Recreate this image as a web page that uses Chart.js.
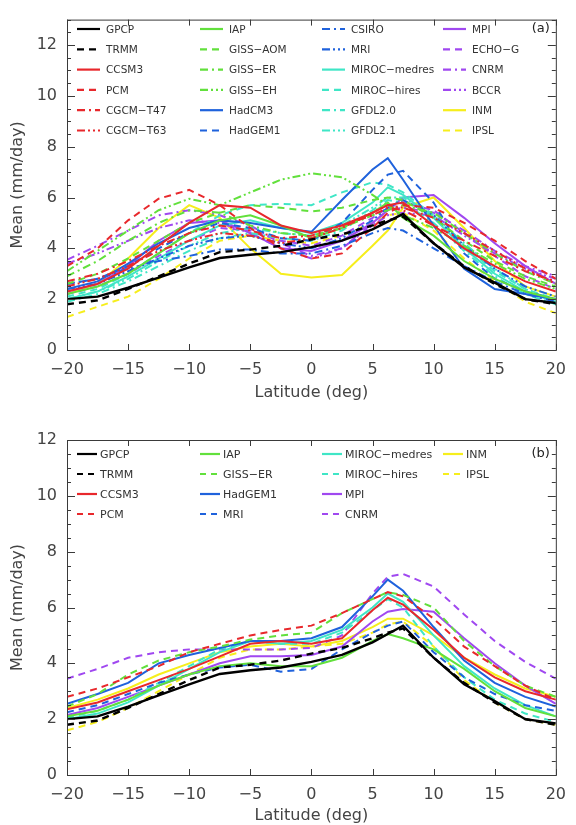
<!DOCTYPE html>
<html>
<head>
<meta charset="utf-8">
<script src="https://cdn.jsdelivr.net/npm/chart.js@4.4.1/dist/chart.umd.min.js"></script>
<style>
  body { margin: 0; background: #fff; width: 576px; height: 825px; overflow: hidden; }
  .panel { position: absolute; left: 0; width: 576px; height: 410px; }
</style>
</head>
<body>
<div class="panel" style="top:0px"><canvas id="chartA" width="576" height="410"></canvas></div>
<div class="panel" style="top:415px"><canvas id="chartB" width="576" height="410"></canvas></div>
<script>
// latitude nodes (deg)
const lat = [-20, -17.5, -15, -12.5, -10, -7.5, -5, -2.5, 0, 2.5, 5, 6.25, 7.5, 10, 12.5, 15, 17.5, 20]
const xTickVals = [-20, -15, -10, -5, 0, 5, 10, 15, 20]
const yTickVals = [0, 2, 4, 6, 8, 10, 12]

// observations (both panels)
const gpcp = [2.0, 2.1, 2.45, 2.85, 3.25, 3.62, 3.75, 3.85, 4.05, 4.3, 4.75, 5.05, 5.35, 4.2, 3.25, 2.65, 2.0, 1.85]
const trmm = [1.8, 1.95, 2.4, 2.9, 3.4, 3.85, 3.95, 4.1, 4.35, 4.55, 4.9, 5.1, 5.25, 4.2, 3.3, 2.6, 2.0, 1.8]

// panel (a) models
const ccsm3A   = [2.3, 2.6, 3.2, 4.1, 5.0, 5.7, 5.6, 4.9, 4.6, 4.9, 5.4, 5.7, 5.8, 4.9, 4.0, 3.3, 2.7, 2.3]
const pcmA     = [3.3, 4.0, 5.1, 5.95, 6.3, 5.7, 4.8, 4.0, 3.6, 3.8, 4.8, 5.4, 5.7, 5.6, 5.0, 4.3, 3.5, 2.8]
const cgcm47A  = [2.7, 3.0, 3.5, 4.1, 4.6, 4.9, 4.7, 4.4, 4.5, 4.9, 5.3, 5.6, 5.5, 4.9, 4.3, 3.7, 3.1, 2.7]
const cgcm63A  = [2.5, 2.8, 3.3, 3.9, 4.3, 4.6, 4.5, 4.2, 4.4, 4.8, 5.4, 5.7, 5.6, 5.2, 4.6, 3.9, 3.2, 2.6]
const iapA     = [2.2, 2.5, 3.0, 3.8, 4.6, 5.1, 5.3, 4.9, 4.4, 4.8, 5.4, 5.8, 5.2, 4.5, 3.5, 2.8, 2.3, 2.0]
const gissAomA = [2.6, 3.0, 3.6, 4.3, 5.0, 5.4, 5.7, 5.6, 5.45, 5.6, 5.9, 6.0, 5.9, 5.2, 4.3, 3.5, 2.9, 2.5]
const gissErA  = [2.9, 3.5, 4.3, 5.0, 5.5, 5.4, 4.9, 4.6, 4.5, 4.8, 5.3, 5.5, 5.7, 5.4, 4.6, 3.8, 3.1, 2.6]
const gissEhA  = [3.1, 3.9, 4.7, 5.5, 5.95, 5.7, 6.2, 6.7, 6.95, 6.8, 6.1, 5.7, 5.3, 4.8, 4.1, 3.4, 2.8, 2.4]
const hadcm3A  = [2.4, 2.7, 3.4, 4.2, 4.8, 5.1, 5.0, 4.8, 4.65, 5.9, 7.1, 7.55, 6.7, 4.9, 3.2, 2.4, 2.2, 2.0]
const hadgem1A = [2.6, 2.8, 3.3, 4.0, 4.6, 5.0, 4.8, 4.4, 4.3, 5.0, 6.3, 6.9, 7.05, 5.8, 3.8, 2.8, 2.3, 2.0]
const csiroA   = [2.6, 2.8, 3.2, 3.5, 3.7, 3.95, 3.95, 3.8, 3.8, 4.1, 4.6, 4.8, 4.7, 4.0, 3.3, 2.7, 2.2, 1.9]
const mriA     = [2.4, 2.6, 3.1, 3.6, 4.1, 4.4, 4.5, 4.2, 4.0, 4.4, 5.1, 5.6, 5.9, 5.3, 4.1, 3.2, 2.5, 2.1]
const mirocMA  = [2.0, 2.3, 2.9, 3.6, 4.3, 4.9, 5.1, 4.8, 4.6, 5.0, 5.8, 6.4, 6.1, 5.2, 4.0, 3.0, 2.3, 1.9]
const mirocHA  = [2.1, 2.4, 3.0, 3.8, 4.6, 5.3, 5.7, 5.75, 5.7, 6.2, 6.6, 6.5, 6.2, 5.3, 4.1, 3.1, 2.4, 2.0]
const gfdl20A  = [1.9, 2.2, 2.7, 3.3, 3.9, 4.4, 4.6, 4.4, 4.3, 4.7, 5.5, 5.9, 5.8, 5.0, 3.9, 2.9, 2.2, 1.8]
const gfdl21A  = [2.0, 2.3, 2.8, 3.5, 4.1, 4.6, 4.8, 4.6, 4.5, 4.9, 5.6, 6.0, 6.0, 5.3, 4.2, 3.2, 2.4, 1.9]
const mpiA     = [2.3, 2.6, 3.3, 4.3, 5.0, 5.1, 4.6, 4.0, 3.9, 4.3, 5.0, 5.5, 6.0, 6.1, 5.2, 4.2, 3.3, 2.6]
const echogA   = [2.2, 2.5, 3.0, 3.7, 4.3, 4.8, 4.7, 4.3, 4.1, 4.5, 5.2, 5.6, 5.8, 5.5, 4.6, 3.7, 2.9, 2.4]
const cnrmA    = [3.55, 4.1, 4.7, 5.3, 5.5, 5.3, 4.9, 4.2, 3.7, 4.0, 5.0, 5.5, 5.6, 5.4, 4.7, 3.9, 3.3, 2.9]
const bccrA    = [3.4, 3.8, 4.3, 4.8, 5.1, 5.0, 4.6, 4.0, 3.6, 4.0, 4.9, 5.3, 5.4, 5.3, 4.5, 3.8, 3.2, 2.8]
const inmA     = [2.2, 2.6, 3.6, 4.8, 5.7, 5.2, 4.0, 3.0, 2.85, 2.95, 4.1, 4.7, 5.6, 6.0, 4.8, 3.5, 2.5, 2.1]
const ipslA    = [1.3, 1.7, 2.1, 2.8, 3.6, 4.3, 4.5, 4.3, 4.2, 4.5, 5.0, 5.3, 5.4, 4.7, 3.6, 2.7, 1.9, 1.45]

// panel (b) models
const ccsm3B   = [2.35, 2.6, 3.0, 3.4, 3.8, 4.25, 4.7, 4.8, 4.7, 4.9, 5.9, 6.35, 6.1, 5.2, 4.2, 3.5, 3.0, 2.7]
const pcmB     = [2.8, 3.1, 3.5, 3.9, 4.4, 4.7, 5.0, 5.2, 5.35, 5.8, 6.3, 6.55, 6.4, 5.6, 4.6, 3.9, 3.2, 2.7]
const iapB     = [2.1, 2.3, 2.7, 3.2, 3.6, 3.9, 4.0, 3.9, 3.9, 4.2, 4.8, 5.05, 4.9, 4.5, 3.8, 3.0, 2.4, 2.1]
const gissErB  = [2.45, 2.9, 3.6, 4.1, 4.4, 4.6, 4.85, 5.0, 5.1, 5.8, 6.3, 6.55, 6.45, 6.0, 4.8, 3.9, 3.2, 2.8]
const hadgem1B = [2.55, 2.9, 3.3, 4.0, 4.3, 4.55, 4.8, 4.8, 4.9, 5.3, 6.4, 7.0, 6.6, 5.3, 4.1, 3.3, 2.8, 2.45]
const mriB     = [2.25, 2.5, 2.9, 3.3, 3.6, 3.85, 3.95, 3.7, 3.8, 4.5, 5.1, 5.35, 5.5, 4.4, 3.5, 2.9, 2.5, 2.3]
const mirocMB  = [2.0, 2.2, 2.6, 3.2, 3.8, 4.4, 4.8, 4.7, 4.8, 5.2, 6.0, 6.5, 6.2, 5.0, 3.9, 3.1, 2.5, 2.1]
const mirocHB  = [2.05, 2.3, 2.7, 3.3, 3.9, 4.5, 4.8, 4.7, 4.7, 5.1, 5.9, 6.3, 6.0, 4.6, 3.5, 2.7, 2.2, 1.9]
const mpiB     = [2.15, 2.4, 2.8, 3.2, 3.6, 4.0, 4.25, 4.25, 4.3, 4.6, 5.5, 5.85, 5.95, 5.85, 4.9, 4.0, 3.2, 2.55]
const cnrmB    = [3.45, 3.8, 4.2, 4.4, 4.5, 4.5, 4.5, 4.5, 4.55, 5.0, 6.5, 7.1, 7.2, 6.75, 5.75, 4.8, 4.05, 3.45]
const inmB     = [2.4, 2.7, 3.1, 3.6, 4.0, 4.4, 4.6, 4.7, 4.6, 4.8, 5.3, 5.6, 5.6, 5.0, 4.2, 3.6, 3.1, 2.8]
const ipslB    = [1.6, 1.9, 2.4, 3.0, 3.6, 4.2, 4.5, 4.5, 4.6, 4.7, 5.1, 5.4, 5.5, 4.6, 3.4, 2.6, 2.0, 1.8]

const BLACK = '#000000', RED = '#e8282c', GREEN = '#62e03c', BLUE = '#1f62dc'
const CYAN = '#3fe6c6', PURPLE = '#a048f0', YELLOW = '#f6ee1c'
const SOLID = [], DASH = [7, 5], DOT1 = [8, 4, 2, 4], DOT2 = [8, 3, 2, 3, 2, 3]

// name, values, colour, dash
const seriesA = [
  ['GPCP', gpcp, BLACK, SOLID], ['TRMM', trmm, BLACK, DASH], ['CCSM3', ccsm3A, RED, SOLID],
  ['PCM', pcmA, RED, DASH], ['CGCM\u2212T47', cgcm47A, RED, DOT1], ['CGCM\u2212T63', cgcm63A, RED, DOT2],
  ['IAP', iapA, GREEN, SOLID], ['GISS\u2212AOM', gissAomA, GREEN, DASH], ['GISS\u2212ER', gissErA, GREEN, DOT1],
  ['GISS\u2212EH', gissEhA, GREEN, DOT2], ['HadCM3', hadcm3A, BLUE, SOLID], ['HadGEM1', hadgem1A, BLUE, DASH],
  ['CSIRO', csiroA, BLUE, DOT1], ['MRI', mriA, BLUE, DOT2], ['MIROC\u2212medres', mirocMA, CYAN, SOLID],
  ['MIROC\u2212hires', mirocHA, CYAN, DASH], ['GFDL2.0', gfdl20A, CYAN, DOT1], ['GFDL2.1', gfdl21A, CYAN, DOT2],
  ['MPI', mpiA, PURPLE, SOLID], ['ECHO\u2212G', echogA, PURPLE, DASH], ['CNRM', cnrmA, PURPLE, DOT1],
  ['BCCR', bccrA, PURPLE, DOT2], ['INM', inmA, YELLOW, SOLID], ['IPSL', ipslA, YELLOW, DASH]
]
const seriesB = [
  ['GPCP', gpcp, BLACK, SOLID], ['TRMM', trmm, BLACK, DASH], ['CCSM3', ccsm3B, RED, SOLID], ['PCM', pcmB, RED, DASH],
  ['IAP', iapB, GREEN, SOLID], ['GISS\u2212ER', gissErB, GREEN, DASH], ['HadGEM1', hadgem1B, BLUE, SOLID], ['MRI', mriB, BLUE, DASH],
  ['MIROC\u2212medres', mirocMB, CYAN, SOLID], ['MIROC\u2212hires', mirocHB, CYAN, DASH], ['MPI', mpiB, PURPLE, SOLID], ['CNRM', cnrmB, PURPLE, DASH],
  ['INM', inmB, YELLOW, SOLID], ['IPSL', ipslB, YELLOW, DASH]
]

const AXIS = '#3a3a3a'
const FONT = 'DejaVu Sans'

// frame with inward ticks on all four sides
const frameTicks = {
  id: 'frameTicks',
  afterDatasetsDraw(chart) {
    const {ctx, chartArea: a, scales: {x, y}} = chart
    ctx.save()
    ctx.strokeStyle = AXIS
    ctx.lineWidth = 1
    ctx.strokeRect(a.left + 0.5, a.top + 0.5, a.right - a.left, a.bottom - a.top)
    ctx.beginPath()
    xTickVals.forEach(v => {
      const px = Math.round(x.getPixelForValue(v)) + 0.5
      ctx.moveTo(px, a.bottom); ctx.lineTo(px, a.bottom - 6)
      ctx.moveTo(px, a.top); ctx.lineTo(px, a.top + 6)
    })
    for (let v = 0; v <= y.max + 0.001; v += 0.5) {
      const py = Math.round(y.getPixelForValue(v)) + 0.5
      const len = v % 2 === 0 ? 8 : 4
      ctx.moveTo(a.left, py); ctx.lineTo(a.left + len, py)
      ctx.moveTo(a.right, py); ctx.lineTo(a.right - len, py)
    }
    ctx.stroke()
    ctx.restore()
  }
}

// legend drawn inside the plot, column major
const insideLegend = {
  id: 'insideLegend',
  afterDatasetsDraw(chart, args, opts) {
    const {ctx} = chart
    ctx.save()
    ctx.font = opts.fontSize + 'px ' + FONT
    ctx.textBaseline = 'middle'
    chart.data.datasets.forEach((ds, i) => {
      const col = Math.floor(i / opts.rows), row = i % opts.rows
      const lx = opts.cols[col], ly = opts.top + row * opts.rowH
      ctx.strokeStyle = ds.borderColor
      ctx.lineWidth = 2.2
      ctx.setLineDash(ds.borderDash.length ? opts.dashes[ds.borderDash.length] : [])
      ctx.beginPath(); ctx.moveTo(lx, ly); ctx.lineTo(lx + opts.lineLen, ly); ctx.stroke()
      ctx.setLineDash([])
      ctx.fillStyle = '#333'
      ctx.fillText(ds.label, lx + opts.lineLen + opts.gap, ly + 1)
    })
    ctx.font = '13px ' + FONT
    ctx.fillStyle = '#222'
    ctx.textAlign = 'right'
    ctx.fillText(opts.tag, chart.chartArea.right - 6, opts.top)
    ctx.restore()
  }
}

const minus = v => String(v).replace('-', '\u2212')

function makeChart(id, series, yMax, pad, xHeight, legendOpts) {
  return new Chart(document.getElementById(id), {
    type: 'line',
    data: {
      datasets: series.map(s => ({
        label: s[0],
        data: s[1].map((v, i) => ({x: lat[i], y: v})),
        borderColor: s[2],
        borderDash: s[3],
        borderWidth: s[2] === BLACK ? 2.4 : 2,
        pointRadius: 0,
        tension: 0,
        fill: false
      }))
    },
    options: {
      responsive: false,
      animation: false,
      layout: {padding: {top: pad.top, right: pad.right, left: 0, bottom: 0}},
      plugins: {legend: {display: false}, tooltip: {enabled: false}, insideLegend: legendOpts},
      scales: {
        x: {
          type: 'linear', min: -20, max: 20,
          afterBuildTicks: s => { s.ticks = xTickVals.map(v => ({value: v})) },
          afterFit: s => { s.height = xHeight },
          grid: {display: false, drawTicks: false},
          border: {display: false},
          ticks: {color: '#444', font: {family: FONT, size: 16}, padding: 10, maxRotation: 0, callback: v => minus(v)},
          title: {display: true, text: 'Latitude (deg)', color: '#444', font: {family: FONT, size: 16}, padding: {top: 0, bottom: pad.xTitle}}
        },
        y: {
          min: 0, max: yMax,
          afterBuildTicks: s => { s.ticks = yTickVals.map(v => ({value: v})) },
          afterFit: s => { s.width = 67 },
          grid: {display: false, drawTicks: false},
          border: {display: false},
          ticks: {color: '#444', font: {family: FONT, size: 16}, padding: 10},
          title: {display: true, text: 'Mean (mm/day)', color: '#444', font: {family: FONT, size: 16}, padding: {top: 8, bottom: 0}}
        }
      }
    },
    plugins: [frameTicks, insideLegend]
  })
}

makeChart('chartA', seriesA, 13, {top: 15, right: 10, xTitle: 8}, 60,
  {rows: 6, cols: [77, 200, 322, 443], top: 29, rowH: 20.3, lineLen: 23, gap: 6, fontSize: 10.5, tag: '(a)',
   dashes: {2: [7, 5], 4: [8, 4, 2, 4], 6: [8, 3, 2, 3, 2, 3]}})
makeChart('chartB', seriesB, 12, {top: 25, right: 10, xTitle: 0}, 50,
  {rows: 4, cols: [77, 200, 322, 443], top: 39, rowH: 20, lineLen: 20, gap: 3, fontSize: 11, tag: '(b)',
   dashes: {2: [6, 5]}})
</script>
</body>
</html>
